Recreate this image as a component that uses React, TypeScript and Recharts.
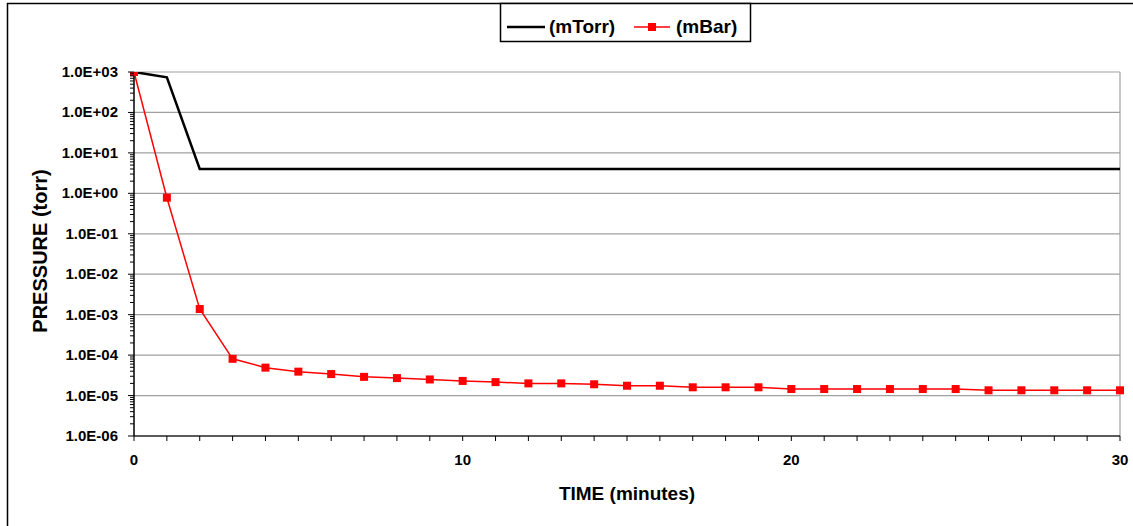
import React from "react";
import { LineChart, Line, XAxis, YAxis, CartesianGrid } from "recharts";

// time in minutes
const minutes = [
  0, 1, 2, 3, 4, 5, 6, 7, 8, 9, 10, 11, 12, 13, 14, 15, 16, 17, 18, 19, 20,
  21, 22, 23, 24, 25, 26, 27, 28, 29, 30,
];

// pressure readings (torr)
const mTorr = [
  1000, 740, 4.0, 4.0, 4.0, 4.0, 4.0, 4.0, 4.0, 4.0, 4.0, 4.0, 4.0, 4.0, 4.0,
  4.0, 4.0, 4.0, 4.0, 4.0, 4.0, 4.0, 4.0, 4.0, 4.0, 4.0, 4.0, 4.0, 4.0, 4.0,
  4.0,
];
const mBar = [
  1000, 0.78, 1.38e-3, 8.1e-5, 4.9e-5, 3.9e-5, 3.4e-5, 2.9e-5, 2.7e-5, 2.5e-5,
  2.3e-5, 2.15e-5, 2.0e-5, 2.0e-5, 1.9e-5, 1.75e-5, 1.75e-5, 1.6e-5, 1.6e-5,
  1.6e-5, 1.45e-5, 1.45e-5, 1.45e-5, 1.45e-5, 1.45e-5, 1.45e-5, 1.35e-5,
  1.35e-5, 1.35e-5, 1.35e-5, 1.35e-5,
];

const decades = [1e-6, 1e-5, 1e-4, 1e-3, 1e-2, 1e-1, 1, 10, 100, 1000];
const xLabels = [0, 10, 20, 30];

const minorTicks = decades
  .slice(0, -1)
  .flatMap((d) => [2, 3, 4, 5, 6, 7, 8, 9].map((m) => d * m));
const yTicks = [...decades, ...minorTicks].sort((a, b) => a - b);

const data = minutes.map((t, i) => ({ t, mTorr: mTorr[i], mBar: mBar[i] }));

const FONT = "'Liberation Sans', Arial, sans-serif";

const isDecade = (v: number) => decades.some((d) => Math.abs(v / d - 1) < 1e-6);

const fmtExp = (v: number) => {
  const e = Math.round(Math.log10(v));
  const sign = e < 0 ? "-" : "+";
  const abs = Math.abs(e);
  return `1.0E${sign}${abs < 10 ? "0" + abs : abs}`;
};

const YTick = ({ x, y, payload }: any) => {
  const major = isDecade(payload.value);
  return (
    <g>
      <line x1={x - (major ? 6 : 4)} x2={x} y1={y} y2={y} stroke="#000" strokeWidth={1} />
      {major && (
        <text
          x={x - 16}
          y={y}
          dy={5}
          textAnchor="end"
          fontFamily={FONT}
          fontWeight="bold"
          fontSize={15}
          fill="#000"
        >
          {fmtExp(payload.value)}
        </text>
      )}
    </g>
  );
};

const XTick = ({ x, y, payload }: any) => {
  const labelled = xLabels.includes(payload.value);
  return (
    <g>
      <line x1={x} x2={x} y1={y} y2={y + 5} stroke="#000" strokeWidth={1} />
      {labelled && (
        <text
          x={x}
          y={y + 29}
          textAnchor="middle"
          fontFamily={FONT}
          fontWeight="bold"
          fontSize={15}
          fill="#000"
        >
          {payload.value}
        </text>
      )}
    </g>
  );
};

const SquareDot = ({ cx, cy }: any) => {
  if (cx == null || cy == null) return null;
  return <rect x={cx - 4} y={cy - 4} width={8} height={8} fill="#ff0000" />;
};

export default function App() {
  return (
    <div style={{ position: "absolute", left: 0, top: 0, width: 1133, height: 526, background: "#fff" }}>
      <LineChart
        width={1133}
        height={526}
        data={data}
        margin={{ top: 72, right: 13, bottom: 0, left: 0 }}
      >
        <CartesianGrid
          stroke="#a0a0a0"
          strokeWidth={1.2}
          horizontalValues={decades}
          verticalValues={[30]}
          syncWithTicks
        />
        <XAxis
          dataKey="t"
          type="number"
          domain={[0, 30]}
          ticks={minutes}
          interval={0}
          height={90}
          tickSize={0}
          tickMargin={0}
          tickLine={false}
          tick={<XTick />}
          axisLine={{ stroke: "#333", strokeWidth: 1.5 }}
        />
        <YAxis
          type="number"
          scale="log"
          domain={[1e-6, 1000]}
          allowDataOverflow
          ticks={yTicks}
          interval={0}
          width={134}
          tickSize={0}
          tickMargin={0}
          tickLine={false}
          tick={<YTick />}
          axisLine={{ stroke: "#000", strokeWidth: 1.5 }}
        />
        <Line
          type="linear"
          dataKey="mTorr"
          stroke="#000"
          strokeWidth={2.5}
          dot={false}
          isAnimationActive={false}
        />
        <Line
          type="linear"
          dataKey="mBar"
          stroke="#ff0000"
          strokeWidth={1.5}
          dot={<SquareDot />}
          isAnimationActive={false}
        />
      </LineChart>
      <svg
        width={1133}
        height={526}
        style={{ position: "absolute", left: 0, top: 0, pointerEvents: "none" }}
      >
        <rect x={7.5} y={3.5} width={1200} height={600} fill="none" stroke="#000" strokeWidth={1.5} />
        <rect x={500.5} y={3.5} width={250} height={38} fill="#fff" stroke="#000" strokeWidth={1.5} />
        <line x1={507} x2={545} y1={27} y2={27} stroke="#000" strokeWidth={2.5} />
        <text x={549} y={33} fontFamily={FONT} fontWeight="bold" fontSize={19} fill="#000">
          (mTorr)
        </text>
        <line x1={634} x2={670} y1={27} y2={27} stroke="#ff0000" strokeWidth={1.5} />
        <rect x={648} y={23} width={8} height={8} fill="#ff0000" />
        <text x={676} y={33} fontFamily={FONT} fontWeight="bold" fontSize={19} fill="#000">
          (mBar)
        </text>
        <text
          x={47}
          y={251}
          transform="rotate(-90 47 251)"
          textAnchor="middle"
          fontFamily={FONT}
          fontWeight="bold"
          fontSize={20}
          fill="#000"
        >
          PRESSURE (torr)
        </text>
        <text
          x={627}
          y={500}
          textAnchor="middle"
          fontFamily={FONT}
          fontWeight="bold"
          fontSize={19}
          fill="#000"
        >
          TIME (minutes)
        </text>
      </svg>
    </div>
  );
}
